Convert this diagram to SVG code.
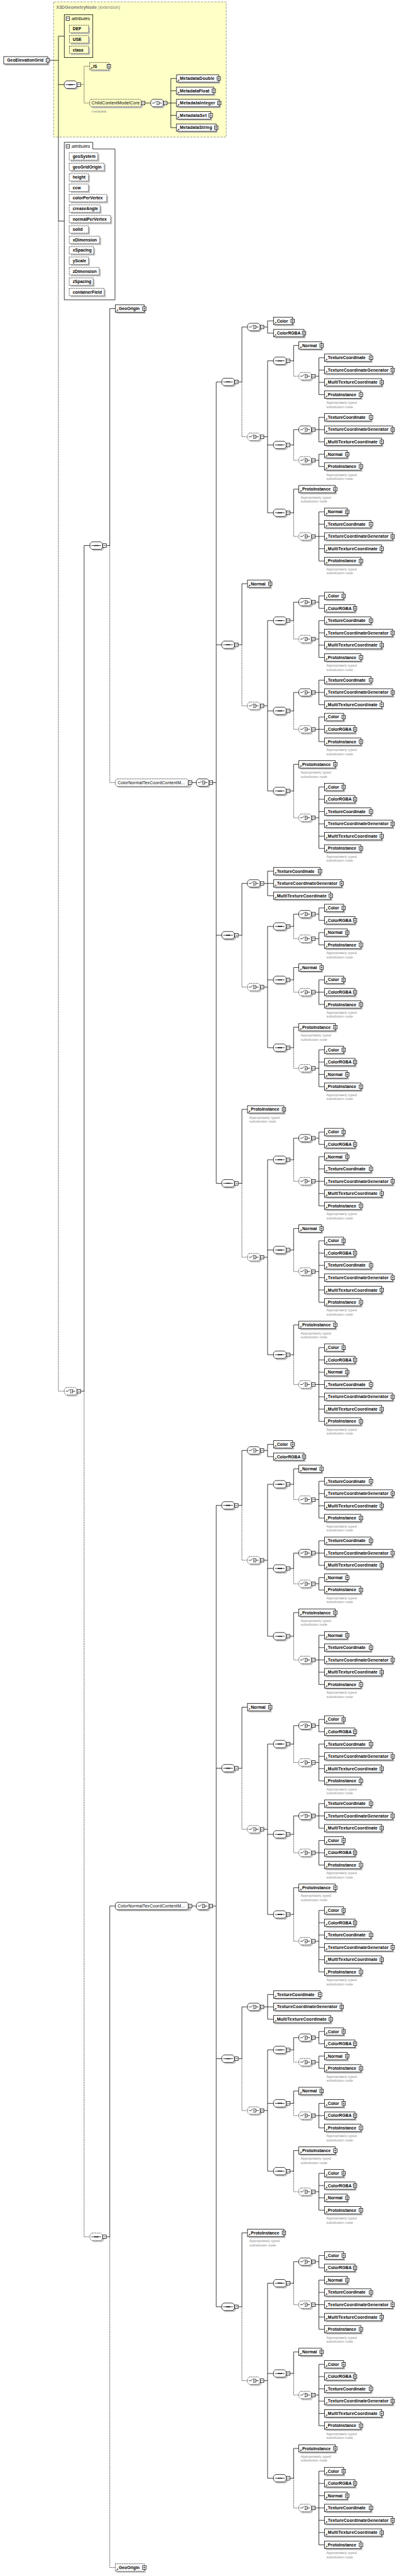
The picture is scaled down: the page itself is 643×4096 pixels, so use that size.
<svg xmlns="http://www.w3.org/2000/svg" width="643" height="4096" viewBox="0 0 643 4096">
<defs>
<style>
.t{font-family:"Liberation Sans",Arial,sans-serif;font-size:11.5px;font-weight:bold;fill:#000}
.n{font-family:"Liberation Sans",Arial,sans-serif;font-size:9.5px;fill:#8c8c8c}
.r{font-family:"Liberation Sans",Arial,sans-serif;font-size:11.5px;fill:#000}
.i{font-family:"Liberation Sans",Arial,sans-serif;font-size:12px;font-style:italic;fill:#000}
.ti{font-family:"Liberation Sans",Arial,sans-serif;font-size:12px;fill:#808080}
.c{fill:none;stroke:#000;stroke-width:1.3}
.d{fill:none;stroke:#000;stroke-width:1.3;stroke-dasharray:2.5 2}
.w{fill:#fff;stroke:#000;stroke-width:1.3}
.wd{fill:#fff;stroke:#000;stroke-width:1.3;stroke-dasharray:2.5 2}
.y{fill:#ffffc8;stroke:#000;stroke-width:1.3}
.yd{fill:#ffffc8;stroke:#000;stroke-width:1.3;stroke-dasharray:2.5 2}
.s{fill:#c4c4c4}
.k{fill:#000}
</style>
<g id="pl"><rect class="w" x="-4.75" y="-4.75" width="9.5" height="9.5" stroke-width="1"/><path d="M-2.8,0H2.8M0,-2.8V2.8" stroke="#000" stroke-width="1"/></g>
<g id="mi"><rect class="w" x="0" y="-4.75" width="9.5" height="9.5" stroke-width="1"/><path d="M2,0H7.5" stroke="#000" stroke-width="1"/></g>
<g id="ar"><path d="M2,8.5L5.6,4.9" stroke="#000" stroke-width="1.2"/><path d="M7.2,3.3V6.9L3.6,3.3Z" fill="#000"/></g>
<g id="Co"><rect class="s" x="4" y="-6" width="51.4" height="20"/><rect class="w" x="0" y="-10" width="51.4" height="20"/><use href="#ar"/><use href="#pl" x="51.4"/></g>
<g id="CR"><rect class="s" x="4" y="-6" width="82" height="20"/><rect class="w" x="0" y="-10" width="82" height="20"/><use href="#ar"/><use href="#pl" x="82"/></g>
<g id="TC"><rect class="s" x="4" y="-6" width="125" height="20"/><rect class="w" x="0" y="-10" width="125" height="20"/><use href="#ar"/><use href="#pl" x="125"/></g>
<g id="TG"><rect class="s" x="4" y="-6" width="183.2" height="20"/><rect class="w" x="0" y="-10" width="183.2" height="20"/><use href="#ar"/><use href="#pl" x="183.2"/></g>
<g id="MT"><rect class="s" x="4" y="-6" width="154" height="20"/><rect class="w" x="0" y="-10" width="154" height="20"/><use href="#ar"/><use href="#pl" x="154"/></g>
<g id="PI"><rect class="s" x="4" y="-6" width="98" height="20"/><rect class="w" x="0" y="-10" width="98" height="20"/><use href="#ar"/><use href="#pl" x="98"/></g>
<g id="No"><rect class="s" x="4" y="-6" width="61.2" height="20"/><rect class="w" x="0" y="-10" width="61.2" height="20"/><use href="#ar"/><use href="#pl" x="61.2"/></g>
<path id="oct" d="M5,-10H29L34,-5V5L29,10H5L0,5V-5Z"/>
<g id="seqI"><path class="c" d="M4,0H30"/><path class="k" d="M12,-1.4h2.8v2.8h-2.8zM15.8,-1.4h2.8v2.8h-2.8zM19.6,-1.4h2.8v2.8h-2.8z"/></g>
<g id="chI"><path class="c" d="M4,0H9.5L14.5,-4.5M19.5,-4.2H22.5V4.2H19.5M22.5,0H30"/><path class="k" d="M16,-5.4h2.4v2.4h-2.4zM16,-1.2h2.4v2.4h-2.4zM16,3h2.4v2.4h-2.4z"/></g>
<g id="sqS"><path class="s" d="M9,-6H33L38,-1V9L33,14H9L4,9V-1Z"/><use href="#oct" class="w"/><use href="#seqI"/><use href="#mi" x="34.5"/></g>
<g id="sqD"><path class="s" d="M9,-6H33L38,-1V9L33,14H9L4,9V-1Z"/><use href="#oct" class="wd"/><use href="#seqI"/><use href="#mi" x="34.5"/></g>
<g id="chS"><path class="s" d="M9,-6H33L38,-1V9L33,14H9L4,9V-1Z"/><use href="#oct" class="w"/><use href="#chI"/><use href="#mi" x="34.5"/></g>
<g id="chD"><path class="s" d="M9,-6H33L38,-1V9L33,14H9L4,9V-1Z"/><use href="#oct" class="wd"/><use href="#chI"/><use href="#mi" x="34.5"/></g>
</defs>
<rect width="643" height="4096" fill="#fff"/>
<g transform="scale(0.5923)">

<g id="extension">
<rect x="144" y="5" width="464" height="363" fill="#ffffc8" stroke="#808080" stroke-width="1.3" stroke-dasharray="6 3"/>
<text class="ti" x="151" y="24.3"><tspan font-weight="bold">X3DGeometryNode</tspan> (extension)</text>
</g>

<g id="connectors">
<path class="d" d="M157,593.5V3734.8H172.7M216.6,227.2H226M241,177.7H226V276.7H241M226,3734.8V6004.9H241.7M295,1464.7V2101H310M295,6004.9V6892.7H310"/>
<path class="c" d="M133.2,162H157M172.7,97H157V593.5H172.7M157,227.2H172.7M389.5,276.7H405M449,276.7H459M474.3,210.7H459V342.7H474.3M459,243.7H474.3M459,276.7H474.3M459,309.7H474.3M216.6,3734.8H226V1464.7H241.7M310,828.4H295V1464.7H285.7M515.5,2101H527.7M310,5117H295V6004.9H285.7M515.5,5117H527.7"/>
<g id="conn-g1">
<path class="d" d="M650,1025.3V1172.65H665M789,968.65V1009.9H803M789,1194.55V1235.8H803M789,1376.65V1440.1H803M650,1730.9V1894.75H665M789,1666V1715.5H803M789,1908.4V1957.9H803M789,2123.5V2195.2H803M650,2510.7V2649.85H665M789,2487.1V2520.1H803M789,2630.5V2663.5H803M789,2812.6V2867.8H803M650,3176.65V3375.1H665M789,3113.35V3171.1H803M789,3355.75V3413.5H803M789,3636.85V3716.8H803"/>
<path class="c" d="M571.7,2101H581M596,1025.3H581V3176.65H596M581,1730.9H596M581,2510.7H596
M665,877.9H650V1025.3H640M709,877.9H719M735,861.4H719V894.4H735M709,1172.65H719M735,968.65H719V1376.65H735M719,1194.55H735
M803,927.4H789V968.65H779M847,1009.9H857M872,960.4H857V1059.4H872M857,993.4H872M857,1026.4H872
M803,1153.3H789V1194.55H779M847,1153.3H857M872,1120.3H857V1186.3H872M857,1153.3H872M847,1235.8H857M872,1219.3H857V1252.3H872
M803,1313.2H789V1376.65H779M847,1440.1H857M872,1374.1H857V1506.1H872M857,1407.1H872M857,1440.1H872M857,1473.1H872
M665,1567H650V1730.9H640M709,1894.75H719M735,1666H719V2123.5H735M719,1908.4H735
M803,1616.5H789V1666H779M847,1616.5H857M872,1600H857V1633H872M847,1715.5H857M872,1666H857V1765H872M857,1699H872M857,1732H872
M803,1858.9H789V1908.4H779M847,1858.9H857M872,1825.9H857V1891.9H872M857,1858.9H872M847,1957.9H857M872,1924.9H857V1990.9H872M857,1957.9H872
M803,2051.8H789V2123.5H779M847,2195.2H857M872,2112.7H857V2277.7H872M857,2145.7H872M857,2178.7H872M857,2211.7H872M857,2244.7H872
M665,2371.6H650V2510.7H640M709,2371.6H719M735,2338.6H719V2404.6H735M719,2371.6H735M709,2649.85H719M735,2487.1H719V2812.6H735M719,2630.5H735
M803,2454.1H789V2487.1H779M847,2454.1H857M872,2437.6H857V2470.6H872M847,2520.1H857M872,2503.6H857V2536.6H872
M803,2597.5H789V2630.5H779M847,2663.5H857M872,2630.5H857V2696.5H872M857,2663.5H872
M803,2757.4H789V2812.6H779M847,2867.8H857M872,2818.3H857V2917.3H872M857,2851.3H872M857,2884.3H872
M665,2978.2H650V3176.65H640M709,3375.1H719M735,3113.35H719V3636.85H735M719,3355.75H735
M803,3055.6H789V3113.35H779M847,3055.6H857M872,3039.1H857V3072.1H872M847,3171.1H857M872,3105.1H857V3237.1H872M857,3138.1H872M857,3171.1H872M857,3204.1H872
M803,3298H789V3355.75H779M847,3413.5H857M872,3331H857V3496H872M857,3364H872M857,3397H872M857,3430H872M857,3463H872
M803,3556.9H789V3636.85H779M847,3716.8H857M872,3617.8H857V3815.8H872M857,3650.8H872M857,3683.8H872M857,3716.8H872M857,3749.8H872M857,3782.8H872"/>
</g>
<g id="conn-g2" transform="translate(0,3016)">
<path class="d" d="M650,1025.3V1172.65H665M789,968.65V1009.9H803M789,1194.55V1235.8H803M789,1376.65V1440.1H803M650,1730.9V1894.75H665M789,1666V1715.5H803M789,1908.4V1957.9H803M789,2123.5V2195.2H803M650,2510.7V2649.85H665M789,2487.1V2520.1H803M789,2630.5V2663.5H803M789,2812.6V2867.8H803M650,3176.65V3375.1H665M789,3113.35V3171.1H803M789,3355.75V3413.5H803M789,3636.85V3716.8H803"/>
<path class="c" d="M571.7,2101H581M596,1025.3H581V3176.65H596M581,1730.9H596M581,2510.7H596
M665,877.9H650V1025.3H640M709,877.9H719M735,861.4H719V894.4H735M709,1172.65H719M735,968.65H719V1376.65H735M719,1194.55H735
M803,927.4H789V968.65H779M847,1009.9H857M872,960.4H857V1059.4H872M857,993.4H872M857,1026.4H872
M803,1153.3H789V1194.55H779M847,1153.3H857M872,1120.3H857V1186.3H872M857,1153.3H872M847,1235.8H857M872,1219.3H857V1252.3H872
M803,1313.2H789V1376.65H779M847,1440.1H857M872,1374.1H857V1506.1H872M857,1407.1H872M857,1440.1H872M857,1473.1H872
M665,1567H650V1730.9H640M709,1894.75H719M735,1666H719V2123.5H735M719,1908.4H735
M803,1616.5H789V1666H779M847,1616.5H857M872,1600H857V1633H872M847,1715.5H857M872,1666H857V1765H872M857,1699H872M857,1732H872
M803,1858.9H789V1908.4H779M847,1858.9H857M872,1825.9H857V1891.9H872M857,1858.9H872M847,1957.9H857M872,1924.9H857V1990.9H872M857,1957.9H872
M803,2051.8H789V2123.5H779M847,2195.2H857M872,2112.7H857V2277.7H872M857,2145.7H872M857,2178.7H872M857,2211.7H872M857,2244.7H872
M665,2371.6H650V2510.7H640M709,2371.6H719M735,2338.6H719V2404.6H735M719,2371.6H735M709,2649.85H719M735,2487.1H719V2812.6H735M719,2630.5H735
M803,2454.1H789V2487.1H779M847,2454.1H857M872,2437.6H857V2470.6H872M847,2520.1H857M872,2503.6H857V2536.6H872
M803,2597.5H789V2630.5H779M847,2663.5H857M872,2630.5H857V2696.5H872M857,2663.5H872
M803,2757.4H789V2812.6H779M847,2867.8H857M872,2818.3H857V2917.3H872M857,2851.3H872M857,2884.3H872
M665,2978.2H650V3176.65H640M709,3375.1H719M735,3113.35H719V3636.85H735M719,3355.75H735
M803,3055.6H789V3113.35H779M847,3055.6H857M872,3039.1H857V3072.1H872M847,3171.1H857M872,3105.1H857V3237.1H872M857,3138.1H872M857,3171.1H872M857,3204.1H872
M803,3298H789V3355.75H779M847,3413.5H857M872,3331H857V3496H872M857,3364H872M857,3397H872M857,3430H872M857,3463H872
M803,3556.9H789V3636.85H779M847,3716.8H857M872,3617.8H857V3815.8H872M857,3650.8H872M857,3683.8H872M857,3716.8H872M857,3749.8H872M857,3782.8H872"/>
</g>
</g>

<g id="GeoElevationGrid"><rect class="s" x="14" y="156" width="118.5" height="20"/><rect class="w" x="10" y="152" width="118.5" height="20"/><text class="t" x="19" y="166" textLength="97.6">GeoElevationGrid</text><use href="#mi" x="123.75" y="162"/></g>

<g id="attributes1">
<rect x="172.7" y="39.3" width="76.7" height="115" fill="none" stroke="#000" stroke-width="1.3"/>
<use href="#mi" x="177.5" y="50"/><text class="i" x="192.5" y="54.2">attributes</text>
<g id="a-DEF"><rect class="s" x="190.6" y="71.7" width="51.4" height="20"/><rect class="yd" x="186.6" y="67.7" width="51.4" height="20"/><text class="t" x="195.6" y="81.7">DEF</text></g>
<g id="a-USE"><rect class="s" x="190.6" y="99.7" width="51.4" height="20"/><rect class="yd" x="186.6" y="95.7" width="51.4" height="20"/><text class="t" x="195.6" y="109.7">USE</text></g>
<g id="a-class"><rect class="s" x="190.6" y="127.7" width="51.4" height="20"/><rect class="yd" x="186.6" y="123.7" width="51.4" height="20"/><text class="t" x="195.6" y="137.7">class</text></g>
</g>

<g id="seq-ext"><g transform="translate(172.7,227.2)"><use href="#sqS"/></g></g>
<g id="IS"><rect class="s" x="245" y="171.7" width="51.5" height="20"/><rect class="yd" x="241" y="167.7" width="51.5" height="20"/><use href="#ar" x="241" y="177.7"/><use href="#pl" x="292.5" y="177.7"/><text class="t" x="250" y="181.7">IS</text></g>
<g id="ChildContentModelCore"><path class="s" d="M249,270.7H380L384,274.7V286.7L380,290.7H249L245,286.7V274.7Z"/><path class="yd" d="M245,266.7H376L380,270.7V282.7L376,286.7H245L241,282.7V270.7Z"/><text class="r" x="246.2" y="280.9" textLength="129">ChildContentModelCore</text><use href="#mi" x="380" y="276.7"/><text class="n" x="246" y="302.5">metadata</text></g>
<g id="choice-meta"><g transform="translate(405,276.7)"><use href="#chS"/></g></g>
<g id="MetadataDouble"><rect class="s" x="478.3" y="204.7" width="113.4" height="20"/><rect class="w" x="474.3" y="200.7" width="113.4" height="20"/><use href="#ar" x="474.3" y="210.7"/><use href="#pl" x="587.7" y="210.7"/><text class="t" x="483.3" y="214.7" textLength="92.9">MetadataDouble</text></g>
<g id="MetadataFloat"><rect class="s" x="478.3" y="237.7" width="100" height="20"/><rect class="w" x="474.3" y="233.7" width="100" height="20"/><use href="#ar" x="474.3" y="243.7"/><use href="#pl" x="574.3" y="243.7"/><text class="t" x="483.3" y="247.7" textLength="79.4">MetadataFloat</text></g>
<g id="MetadataInteger"><rect class="s" x="478.3" y="270.7" width="115" height="20"/><rect class="w" x="474.3" y="266.7" width="115" height="20"/><use href="#ar" x="474.3" y="276.7"/><use href="#pl" x="589.3" y="276.7"/><text class="t" x="483.3" y="280.7" textLength="94.9">MetadataInteger</text></g>
<g id="MetadataSet"><rect class="s" x="478.3" y="303.7" width="92" height="20"/><rect class="w" x="474.3" y="299.7" width="92" height="20"/><use href="#ar" x="474.3" y="309.7"/><use href="#pl" x="566.3" y="309.7"/><text class="t" x="483.3" y="313.7" textLength="72">MetadataSet</text></g>
<g id="MetadataString"><rect class="s" x="478.3" y="336.7" width="106.7" height="20"/><rect class="w" x="474.3" y="332.7" width="106.7" height="20"/><use href="#ar" x="474.3" y="342.7"/><use href="#pl" x="581" y="342.7"/><text class="t" x="483.3" y="346.7" textLength="86.6">MetadataString</text></g>

<g id="attributes2">
<path d="M172.7,382H249.4V400H309V805H172.7Z" fill="none" stroke="#000" stroke-width="1.3"/>
<use href="#mi" x="177.5" y="393"/><text class="i" x="192.5" y="397.2">attributes</text>
<g id="a-geoSystem"><rect class="s" x="190" y="414" width="77" height="20"/><rect class="wd" x="186" y="410" width="77" height="20"/><text class="t" x="195.3" y="424">geoSystem</text></g>
<g id="a-geoGridOrigin"><rect class="s" x="190" y="442" width="94" height="20"/><rect class="wd" x="186" y="438" width="94" height="20"/><text class="t" x="195.3" y="452">geoGridOrigin</text></g>
<g id="a-height"><rect class="s" x="190" y="470" width="51.7" height="20"/><rect class="wd" x="186" y="466" width="51.7" height="20"/><text class="t" x="195.3" y="480">height</text></g>
<g id="a-ccw"><rect class="s" x="190" y="498" width="51.7" height="20"/><rect class="wd" x="186" y="494" width="51.7" height="20"/><text class="t" x="195.3" y="508">ccw</text></g>
<g id="a-colorPerVertex"><rect class="s" x="190" y="526" width="100.7" height="20"/><rect class="wd" x="186" y="522" width="100.7" height="20"/><text class="t" x="195.3" y="536">colorPerVertex</text></g>
<g id="a-creaseAngle"><rect class="s" x="190" y="554" width="83" height="20"/><rect class="wd" x="186" y="550" width="83" height="20"/><text class="t" x="195.3" y="564">creaseAngle</text></g>
<g id="a-normalPerVertex"><rect class="s" x="190" y="582" width="111.3" height="20"/><rect class="wd" x="186" y="578" width="111.3" height="20"/><text class="t" x="195.3" y="592">normalPerVertex</text></g>
<g id="a-solid"><rect class="s" x="190" y="610" width="51.7" height="20"/><rect class="wd" x="186" y="606" width="51.7" height="20"/><text class="t" x="195.3" y="620">solid</text></g>
<g id="a-xDimension"><rect class="s" x="190" y="638" width="82" height="20"/><rect class="wd" x="186" y="634" width="82" height="20"/><text class="t" x="195.3" y="648">xDimension</text></g>
<g id="a-xSpacing"><rect class="s" x="190" y="666" width="65.7" height="20"/><rect class="wd" x="186" y="662" width="65.7" height="20"/><text class="t" x="195.3" y="676">xSpacing</text></g>
<g id="a-yScale"><rect class="s" x="190" y="694" width="51.7" height="20"/><rect class="wd" x="186" y="690" width="51.7" height="20"/><text class="t" x="195.3" y="704">yScale</text></g>
<g id="a-zDimension"><rect class="s" x="190" y="722" width="80.7" height="20"/><rect class="wd" x="186" y="718" width="80.7" height="20"/><text class="t" x="195.3" y="732">zDimension</text></g>
<g id="a-zSpacing"><rect class="s" x="190" y="750" width="64.3" height="20"/><rect class="wd" x="186" y="746" width="64.3" height="20"/><text class="t" x="195.3" y="760">zSpacing</text></g>
<g id="a-containerField"><rect class="s" x="190" y="778" width="94" height="20"/><rect class="wd" x="186" y="774" width="94" height="20"/><text class="t" x="195.3" y="788">containerField</text></g>
</g>

<g id="choice-main"><g transform="translate(172.7,3734.8)"><use href="#chD"/></g></g>
<g id="seq-1"><g transform="translate(241.7,1464.7)"><use href="#sqS"/></g></g>
<g id="seq-2"><g transform="translate(241.7,6004.9)"><use href="#sqD"/></g></g>
<g id="GeoOrigin-1"><rect class="s" x="314" y="822.4" width="77.7" height="20"/><rect class="w" x="310" y="818.4" width="77.7" height="20"/><use href="#ar" x="310" y="828.4"/><use href="#pl" x="387.7" y="828.4"/><text class="t" x="319" y="832.4">GeoOrigin</text></g>
<g id="GeoOrigin-2"><rect class="s" x="314" y="6886.7" width="77.7" height="20"/><rect class="wd" x="310" y="6882.7" width="77.7" height="20"/><use href="#ar" x="310" y="6892.7"/><use href="#pl" x="387.7" y="6892.7"/><text class="t" x="319" y="6896.7">GeoOrigin</text></g>
<g id="ColorNormalTexCoord-1"><path class="s" d="M318,2095H510L514,2099V2111L510,2115H318L314,2111V2099Z"/><path class="wd" d="M314,2091H502L506,2095V2107L502,2111H314L310,2107V2095Z"/><text class="r" x="316" y="2105.2" textLength="180.7">ColorNormalTexCoordContentM...</text><use href="#mi" x="506" y="2101"/></g>
<g id="ColorNormalTexCoord-2"><path class="s" d="M318,5111H510L514,5115V5127L510,5131H318L314,5127V5115Z"/><path class="w" d="M314,5107H502L506,5111V5123L502,5127H314L310,5123V5111Z"/><text class="r" x="316" y="5121.2" textLength="180.7">ColorNormalTexCoordContentM...</text><use href="#mi" x="506" y="5117"/></g>
<g id="choice-CN1"><g transform="translate(527.7,2101)"><use href="#chS"/></g></g>
<g id="choice-CN2"><g transform="translate(527.7,5117)"><use href="#chS"/></g></g>

<g id="group1">
<g id="g1S1" transform="translate(596,1025.3)"><use href="#sqS"/></g>
<g id="g1C1a" transform="translate(665,877.9)"><use href="#chS"/></g>
<g id="g1e1" transform="translate(735,861.4)"><use href="#Co"/><text class="t" x="9" y="4">Color</text></g>
<g id="g1e2" transform="translate(735,894.4)"><use href="#CR"/><text class="t" x="9" y="4">ColorRGBA</text></g>
<g id="g1C1b" transform="translate(665,1172.65)"><use href="#chD"/></g>
<g id="g1Q1" transform="translate(735,968.65)"><use href="#sqS"/></g>
<g id="g1e3" transform="translate(803,927.4)"><use href="#No"/><text class="t" x="9" y="4">Normal</text></g>
<g id="g1Q1c" transform="translate(803,1009.9)"><use href="#chD"/></g>
<g id="g1e4" transform="translate(872,960.4)"><use href="#TC"/><text class="t" x="9" y="4">TextureCoordinate</text></g>
<g id="g1e5" transform="translate(872,993.4)"><use href="#TG"/><text class="t" x="9" y="4" textLength="163">TextureCoordinateGenerator</text></g>
<g id="g1e6" transform="translate(872,1026.4)"><use href="#MT"/><text class="t" x="9" y="4" textLength="133.5">MultiTextureCoordinate</text></g>
<g id="g1e7" transform="translate(872,1059.4)"><use href="#PI"/><text class="t" x="9" y="4">ProtoInstance</text><text class="n" x="5" y="25">Appropriately typed</text><text class="n" x="5" y="36">substitution node</text></g>
<g id="g1Q2" transform="translate(735,1194.55)"><use href="#sqS"/></g>
<g id="g1Q2a" transform="translate(803,1153.3)"><use href="#chS"/></g>
<g id="g1e8" transform="translate(872,1120.3)"><use href="#TC"/><text class="t" x="9" y="4">TextureCoordinate</text></g>
<g id="g1e9" transform="translate(872,1153.3)"><use href="#TG"/><text class="t" x="9" y="4" textLength="163">TextureCoordinateGenerator</text></g>
<g id="g1e10" transform="translate(872,1186.3)"><use href="#MT"/><text class="t" x="9" y="4" textLength="133.5">MultiTextureCoordinate</text></g>
<g id="g1Q2b" transform="translate(803,1235.8)"><use href="#chD"/></g>
<g id="g1e11" transform="translate(872,1219.3)"><use href="#No"/><text class="t" x="9" y="4">Normal</text></g>
<g id="g1e12" transform="translate(872,1252.3)"><use href="#PI"/><text class="t" x="9" y="4">ProtoInstance</text><text class="n" x="5" y="25">Appropriately typed</text><text class="n" x="5" y="36">substitution node</text></g>
<g id="g1Q3" transform="translate(735,1376.65)"><use href="#sqS"/></g>
<g id="g1e13" transform="translate(803,1313.2)"><use href="#PI"/><text class="t" x="9" y="4">ProtoInstance</text><text class="n" x="5" y="25">Appropriately typed</text><text class="n" x="5" y="36">substitution node</text></g>
<g id="g1Q3b" transform="translate(803,1440.1)"><use href="#chD"/></g>
<g id="g1e14" transform="translate(872,1374.1)"><use href="#No"/><text class="t" x="9" y="4">Normal</text></g>
<g id="g1e15" transform="translate(872,1407.1)"><use href="#TC"/><text class="t" x="9" y="4">TextureCoordinate</text></g>
<g id="g1e16" transform="translate(872,1440.1)"><use href="#TG"/><text class="t" x="9" y="4" textLength="163">TextureCoordinateGenerator</text></g>
<g id="g1e17" transform="translate(872,1473.1)"><use href="#MT"/><text class="t" x="9" y="4" textLength="133.5">MultiTextureCoordinate</text></g>
<g id="g1e18" transform="translate(872,1506.1)"><use href="#PI"/><text class="t" x="9" y="4">ProtoInstance</text><text class="n" x="5" y="25">Appropriately typed</text><text class="n" x="5" y="36">substitution node</text></g>
<g id="g1S2" transform="translate(596,1730.9)"><use href="#sqS"/></g>
<g id="g1e19" transform="translate(665,1567)"><use href="#No"/><text class="t" x="9" y="4">Normal</text></g>
<g id="g1C2b" transform="translate(665,1894.75)"><use href="#chD"/></g>
<g id="g1R1" transform="translate(735,1666)"><use href="#sqS"/></g>
<g id="g1R1a" transform="translate(803,1616.5)"><use href="#chS"/></g>
<g id="g1e20" transform="translate(872,1600)"><use href="#Co"/><text class="t" x="9" y="4">Color</text></g>
<g id="g1e21" transform="translate(872,1633)"><use href="#CR"/><text class="t" x="9" y="4">ColorRGBA</text></g>
<g id="g1R1b" transform="translate(803,1715.5)"><use href="#chD"/></g>
<g id="g1e22" transform="translate(872,1666)"><use href="#TC"/><text class="t" x="9" y="4">TextureCoordinate</text></g>
<g id="g1e23" transform="translate(872,1699)"><use href="#TG"/><text class="t" x="9" y="4" textLength="163">TextureCoordinateGenerator</text></g>
<g id="g1e24" transform="translate(872,1732)"><use href="#MT"/><text class="t" x="9" y="4" textLength="133.5">MultiTextureCoordinate</text></g>
<g id="g1e25" transform="translate(872,1765)"><use href="#PI"/><text class="t" x="9" y="4">ProtoInstance</text><text class="n" x="5" y="25">Appropriately typed</text><text class="n" x="5" y="36">substitution node</text></g>
<g id="g1R2" transform="translate(735,1908.4)"><use href="#sqS"/></g>
<g id="g1R2a" transform="translate(803,1858.9)"><use href="#chS"/></g>
<g id="g1e26" transform="translate(872,1825.9)"><use href="#TC"/><text class="t" x="9" y="4">TextureCoordinate</text></g>
<g id="g1e27" transform="translate(872,1858.9)"><use href="#TG"/><text class="t" x="9" y="4" textLength="163">TextureCoordinateGenerator</text></g>
<g id="g1e28" transform="translate(872,1891.9)"><use href="#MT"/><text class="t" x="9" y="4" textLength="133.5">MultiTextureCoordinate</text></g>
<g id="g1R2b" transform="translate(803,1957.9)"><use href="#chD"/></g>
<g id="g1e29" transform="translate(872,1924.9)"><use href="#Co"/><text class="t" x="9" y="4">Color</text></g>
<g id="g1e30" transform="translate(872,1957.9)"><use href="#CR"/><text class="t" x="9" y="4">ColorRGBA</text></g>
<g id="g1e31" transform="translate(872,1990.9)"><use href="#PI"/><text class="t" x="9" y="4">ProtoInstance</text><text class="n" x="5" y="25">Appropriately typed</text><text class="n" x="5" y="36">substitution node</text></g>
<g id="g1R3" transform="translate(735,2123.5)"><use href="#sqS"/></g>
<g id="g1e32" transform="translate(803,2051.8)"><use href="#PI"/><text class="t" x="9" y="4">ProtoInstance</text><text class="n" x="5" y="25">Appropriately typed</text><text class="n" x="5" y="36">substitution node</text></g>
<g id="g1R3b" transform="translate(803,2195.2)"><use href="#chD"/></g>
<g id="g1e33" transform="translate(872,2112.7)"><use href="#Co"/><text class="t" x="9" y="4">Color</text></g>
<g id="g1e34" transform="translate(872,2145.7)"><use href="#CR"/><text class="t" x="9" y="4">ColorRGBA</text></g>
<g id="g1e35" transform="translate(872,2178.7)"><use href="#TC"/><text class="t" x="9" y="4">TextureCoordinate</text></g>
<g id="g1e36" transform="translate(872,2211.7)"><use href="#TG"/><text class="t" x="9" y="4" textLength="163">TextureCoordinateGenerator</text></g>
<g id="g1e37" transform="translate(872,2244.7)"><use href="#MT"/><text class="t" x="9" y="4" textLength="133.5">MultiTextureCoordinate</text></g>
<g id="g1e38" transform="translate(872,2277.7)"><use href="#PI"/><text class="t" x="9" y="4">ProtoInstance</text><text class="n" x="5" y="25">Appropriately typed</text><text class="n" x="5" y="36">substitution node</text></g>
<g id="g1S3" transform="translate(596,2510.7)"><use href="#sqS"/></g>
<g id="g1C3a" transform="translate(665,2371.6)"><use href="#chS"/></g>
<g id="g1e39" transform="translate(735,2338.6)"><use href="#TC"/><text class="t" x="9" y="4">TextureCoordinate</text></g>
<g id="g1e40" transform="translate(735,2371.6)"><use href="#TG"/><text class="t" x="9" y="4" textLength="163">TextureCoordinateGenerator</text></g>
<g id="g1e41" transform="translate(735,2404.6)"><use href="#MT"/><text class="t" x="9" y="4" textLength="133.5">MultiTextureCoordinate</text></g>
<g id="g1C3b" transform="translate(665,2649.85)"><use href="#chD"/></g>
<g id="g1T1" transform="translate(735,2487.1)"><use href="#sqS"/></g>
<g id="g1T1a" transform="translate(803,2454.1)"><use href="#chS"/></g>
<g id="g1e42" transform="translate(872,2437.6)"><use href="#Co"/><text class="t" x="9" y="4">Color</text></g>
<g id="g1e43" transform="translate(872,2470.6)"><use href="#CR"/><text class="t" x="9" y="4">ColorRGBA</text></g>
<g id="g1T1b" transform="translate(803,2520.1)"><use href="#chD"/></g>
<g id="g1e44" transform="translate(872,2503.6)"><use href="#No"/><text class="t" x="9" y="4">Normal</text></g>
<g id="g1e45" transform="translate(872,2536.6)"><use href="#PI"/><text class="t" x="9" y="4">ProtoInstance</text><text class="n" x="5" y="25">Appropriately typed</text><text class="n" x="5" y="36">substitution node</text></g>
<g id="g1T2" transform="translate(735,2630.5)"><use href="#sqS"/></g>
<g id="g1e46" transform="translate(803,2597.5)"><use href="#No"/><text class="t" x="9" y="4">Normal</text></g>
<g id="g1T2b" transform="translate(803,2663.5)"><use href="#chD"/></g>
<g id="g1e47" transform="translate(872,2630.5)"><use href="#Co"/><text class="t" x="9" y="4">Color</text></g>
<g id="g1e48" transform="translate(872,2663.5)"><use href="#CR"/><text class="t" x="9" y="4">ColorRGBA</text></g>
<g id="g1e49" transform="translate(872,2696.5)"><use href="#PI"/><text class="t" x="9" y="4">ProtoInstance</text><text class="n" x="5" y="25">Appropriately typed</text><text class="n" x="5" y="36">substitution node</text></g>
<g id="g1T3" transform="translate(735,2812.6)"><use href="#sqS"/></g>
<g id="g1e50" transform="translate(803,2757.4)"><use href="#PI"/><text class="t" x="9" y="4">ProtoInstance</text><text class="n" x="5" y="25">Appropriately typed</text><text class="n" x="5" y="36">substitution node</text></g>
<g id="g1T3b" transform="translate(803,2867.8)"><use href="#chD"/></g>
<g id="g1e51" transform="translate(872,2818.3)"><use href="#Co"/><text class="t" x="9" y="4">Color</text></g>
<g id="g1e52" transform="translate(872,2851.3)"><use href="#CR"/><text class="t" x="9" y="4">ColorRGBA</text></g>
<g id="g1e53" transform="translate(872,2884.3)"><use href="#No"/><text class="t" x="9" y="4">Normal</text></g>
<g id="g1e54" transform="translate(872,2917.3)"><use href="#PI"/><text class="t" x="9" y="4">ProtoInstance</text><text class="n" x="5" y="25">Appropriately typed</text><text class="n" x="5" y="36">substitution node</text></g>
<g id="g1S4" transform="translate(596,3176.65)"><use href="#sqS"/></g>
<g id="g1e55" transform="translate(665,2978.2)"><use href="#PI"/><text class="t" x="9" y="4">ProtoInstance</text><text class="n" x="5" y="25">Appropriately typed</text><text class="n" x="5" y="36">substitution node</text></g>
<g id="g1C4b" transform="translate(665,3375.1)"><use href="#chD"/></g>
<g id="g1U1" transform="translate(735,3113.35)"><use href="#sqS"/></g>
<g id="g1U1a" transform="translate(803,3055.6)"><use href="#chS"/></g>
<g id="g1e56" transform="translate(872,3039.1)"><use href="#Co"/><text class="t" x="9" y="4">Color</text></g>
<g id="g1e57" transform="translate(872,3072.1)"><use href="#CR"/><text class="t" x="9" y="4">ColorRGBA</text></g>
<g id="g1U1b" transform="translate(803,3171.1)"><use href="#chD"/></g>
<g id="g1e58" transform="translate(872,3105.1)"><use href="#No"/><text class="t" x="9" y="4">Normal</text></g>
<g id="g1e59" transform="translate(872,3138.1)"><use href="#TC"/><text class="t" x="9" y="4">TextureCoordinate</text></g>
<g id="g1e60" transform="translate(872,3171.1)"><use href="#TG"/><text class="t" x="9" y="4" textLength="163">TextureCoordinateGenerator</text></g>
<g id="g1e61" transform="translate(872,3204.1)"><use href="#MT"/><text class="t" x="9" y="4" textLength="133.5">MultiTextureCoordinate</text></g>
<g id="g1e62" transform="translate(872,3237.1)"><use href="#PI"/><text class="t" x="9" y="4">ProtoInstance</text><text class="n" x="5" y="25">Appropriately typed</text><text class="n" x="5" y="36">substitution node</text></g>
<g id="g1U2" transform="translate(735,3355.75)"><use href="#sqS"/></g>
<g id="g1e63" transform="translate(803,3298)"><use href="#No"/><text class="t" x="9" y="4">Normal</text></g>
<g id="g1U2b" transform="translate(803,3413.5)"><use href="#chD"/></g>
<g id="g1e64" transform="translate(872,3331)"><use href="#Co"/><text class="t" x="9" y="4">Color</text></g>
<g id="g1e65" transform="translate(872,3364)"><use href="#CR"/><text class="t" x="9" y="4">ColorRGBA</text></g>
<g id="g1e66" transform="translate(872,3397)"><use href="#TC"/><text class="t" x="9" y="4">TextureCoordinate</text></g>
<g id="g1e67" transform="translate(872,3430)"><use href="#TG"/><text class="t" x="9" y="4" textLength="163">TextureCoordinateGenerator</text></g>
<g id="g1e68" transform="translate(872,3463)"><use href="#MT"/><text class="t" x="9" y="4" textLength="133.5">MultiTextureCoordinate</text></g>
<g id="g1e69" transform="translate(872,3496)"><use href="#PI"/><text class="t" x="9" y="4">ProtoInstance</text><text class="n" x="5" y="25">Appropriately typed</text><text class="n" x="5" y="36">substitution node</text></g>
<g id="g1U3" transform="translate(735,3636.85)"><use href="#sqS"/></g>
<g id="g1e70" transform="translate(803,3556.9)"><use href="#PI"/><text class="t" x="9" y="4">ProtoInstance</text><text class="n" x="5" y="25">Appropriately typed</text><text class="n" x="5" y="36">substitution node</text></g>
<g id="g1U3b" transform="translate(803,3716.8)"><use href="#chD"/></g>
<g id="g1e71" transform="translate(872,3617.8)"><use href="#Co"/><text class="t" x="9" y="4">Color</text></g>
<g id="g1e72" transform="translate(872,3650.8)"><use href="#CR"/><text class="t" x="9" y="4">ColorRGBA</text></g>
<g id="g1e73" transform="translate(872,3683.8)"><use href="#No"/><text class="t" x="9" y="4">Normal</text></g>
<g id="g1e74" transform="translate(872,3716.8)"><use href="#TC"/><text class="t" x="9" y="4">TextureCoordinate</text></g>
<g id="g1e75" transform="translate(872,3749.8)"><use href="#TG"/><text class="t" x="9" y="4" textLength="163">TextureCoordinateGenerator</text></g>
<g id="g1e76" transform="translate(872,3782.8)"><use href="#MT"/><text class="t" x="9" y="4" textLength="133.5">MultiTextureCoordinate</text></g>
<g id="g1e77" transform="translate(872,3815.8)"><use href="#PI"/><text class="t" x="9" y="4">ProtoInstance</text><text class="n" x="5" y="25">Appropriately typed</text><text class="n" x="5" y="36">substitution node</text></g>
</g>

<g id="group2" transform="translate(0,3016)">
<g id="g2S1" transform="translate(596,1025.3)"><use href="#sqS"/></g>
<g id="g2C1a" transform="translate(665,877.9)"><use href="#chS"/></g>
<g id="g2e1" transform="translate(735,861.4)"><use href="#Co"/><text class="t" x="9" y="4">Color</text></g>
<g id="g2e2" transform="translate(735,894.4)"><use href="#CR"/><text class="t" x="9" y="4">ColorRGBA</text></g>
<g id="g2C1b" transform="translate(665,1172.65)"><use href="#chD"/></g>
<g id="g2Q1" transform="translate(735,968.65)"><use href="#sqS"/></g>
<g id="g2e3" transform="translate(803,927.4)"><use href="#No"/><text class="t" x="9" y="4">Normal</text></g>
<g id="g2Q1c" transform="translate(803,1009.9)"><use href="#chD"/></g>
<g id="g2e4" transform="translate(872,960.4)"><use href="#TC"/><text class="t" x="9" y="4">TextureCoordinate</text></g>
<g id="g2e5" transform="translate(872,993.4)"><use href="#TG"/><text class="t" x="9" y="4" textLength="163">TextureCoordinateGenerator</text></g>
<g id="g2e6" transform="translate(872,1026.4)"><use href="#MT"/><text class="t" x="9" y="4" textLength="133.5">MultiTextureCoordinate</text></g>
<g id="g2e7" transform="translate(872,1059.4)"><use href="#PI"/><text class="t" x="9" y="4">ProtoInstance</text><text class="n" x="5" y="25">Appropriately typed</text><text class="n" x="5" y="36">substitution node</text></g>
<g id="g2Q2" transform="translate(735,1194.55)"><use href="#sqS"/></g>
<g id="g2Q2a" transform="translate(803,1153.3)"><use href="#chS"/></g>
<g id="g2e8" transform="translate(872,1120.3)"><use href="#TC"/><text class="t" x="9" y="4">TextureCoordinate</text></g>
<g id="g2e9" transform="translate(872,1153.3)"><use href="#TG"/><text class="t" x="9" y="4" textLength="163">TextureCoordinateGenerator</text></g>
<g id="g2e10" transform="translate(872,1186.3)"><use href="#MT"/><text class="t" x="9" y="4" textLength="133.5">MultiTextureCoordinate</text></g>
<g id="g2Q2b" transform="translate(803,1235.8)"><use href="#chD"/></g>
<g id="g2e11" transform="translate(872,1219.3)"><use href="#No"/><text class="t" x="9" y="4">Normal</text></g>
<g id="g2e12" transform="translate(872,1252.3)"><use href="#PI"/><text class="t" x="9" y="4">ProtoInstance</text><text class="n" x="5" y="25">Appropriately typed</text><text class="n" x="5" y="36">substitution node</text></g>
<g id="g2Q3" transform="translate(735,1376.65)"><use href="#sqS"/></g>
<g id="g2e13" transform="translate(803,1313.2)"><use href="#PI"/><text class="t" x="9" y="4">ProtoInstance</text><text class="n" x="5" y="25">Appropriately typed</text><text class="n" x="5" y="36">substitution node</text></g>
<g id="g2Q3b" transform="translate(803,1440.1)"><use href="#chD"/></g>
<g id="g2e14" transform="translate(872,1374.1)"><use href="#No"/><text class="t" x="9" y="4">Normal</text></g>
<g id="g2e15" transform="translate(872,1407.1)"><use href="#TC"/><text class="t" x="9" y="4">TextureCoordinate</text></g>
<g id="g2e16" transform="translate(872,1440.1)"><use href="#TG"/><text class="t" x="9" y="4" textLength="163">TextureCoordinateGenerator</text></g>
<g id="g2e17" transform="translate(872,1473.1)"><use href="#MT"/><text class="t" x="9" y="4" textLength="133.5">MultiTextureCoordinate</text></g>
<g id="g2e18" transform="translate(872,1506.1)"><use href="#PI"/><text class="t" x="9" y="4">ProtoInstance</text><text class="n" x="5" y="25">Appropriately typed</text><text class="n" x="5" y="36">substitution node</text></g>
<g id="g2S2" transform="translate(596,1730.9)"><use href="#sqS"/></g>
<g id="g2e19" transform="translate(665,1567)"><use href="#No"/><text class="t" x="9" y="4">Normal</text></g>
<g id="g2C2b" transform="translate(665,1894.75)"><use href="#chD"/></g>
<g id="g2R1" transform="translate(735,1666)"><use href="#sqS"/></g>
<g id="g2R1a" transform="translate(803,1616.5)"><use href="#chS"/></g>
<g id="g2e20" transform="translate(872,1600)"><use href="#Co"/><text class="t" x="9" y="4">Color</text></g>
<g id="g2e21" transform="translate(872,1633)"><use href="#CR"/><text class="t" x="9" y="4">ColorRGBA</text></g>
<g id="g2R1b" transform="translate(803,1715.5)"><use href="#chD"/></g>
<g id="g2e22" transform="translate(872,1666)"><use href="#TC"/><text class="t" x="9" y="4">TextureCoordinate</text></g>
<g id="g2e23" transform="translate(872,1699)"><use href="#TG"/><text class="t" x="9" y="4" textLength="163">TextureCoordinateGenerator</text></g>
<g id="g2e24" transform="translate(872,1732)"><use href="#MT"/><text class="t" x="9" y="4" textLength="133.5">MultiTextureCoordinate</text></g>
<g id="g2e25" transform="translate(872,1765)"><use href="#PI"/><text class="t" x="9" y="4">ProtoInstance</text><text class="n" x="5" y="25">Appropriately typed</text><text class="n" x="5" y="36">substitution node</text></g>
<g id="g2R2" transform="translate(735,1908.4)"><use href="#sqS"/></g>
<g id="g2R2a" transform="translate(803,1858.9)"><use href="#chS"/></g>
<g id="g2e26" transform="translate(872,1825.9)"><use href="#TC"/><text class="t" x="9" y="4">TextureCoordinate</text></g>
<g id="g2e27" transform="translate(872,1858.9)"><use href="#TG"/><text class="t" x="9" y="4" textLength="163">TextureCoordinateGenerator</text></g>
<g id="g2e28" transform="translate(872,1891.9)"><use href="#MT"/><text class="t" x="9" y="4" textLength="133.5">MultiTextureCoordinate</text></g>
<g id="g2R2b" transform="translate(803,1957.9)"><use href="#chD"/></g>
<g id="g2e29" transform="translate(872,1924.9)"><use href="#Co"/><text class="t" x="9" y="4">Color</text></g>
<g id="g2e30" transform="translate(872,1957.9)"><use href="#CR"/><text class="t" x="9" y="4">ColorRGBA</text></g>
<g id="g2e31" transform="translate(872,1990.9)"><use href="#PI"/><text class="t" x="9" y="4">ProtoInstance</text><text class="n" x="5" y="25">Appropriately typed</text><text class="n" x="5" y="36">substitution node</text></g>
<g id="g2R3" transform="translate(735,2123.5)"><use href="#sqS"/></g>
<g id="g2e32" transform="translate(803,2051.8)"><use href="#PI"/><text class="t" x="9" y="4">ProtoInstance</text><text class="n" x="5" y="25">Appropriately typed</text><text class="n" x="5" y="36">substitution node</text></g>
<g id="g2R3b" transform="translate(803,2195.2)"><use href="#chD"/></g>
<g id="g2e33" transform="translate(872,2112.7)"><use href="#Co"/><text class="t" x="9" y="4">Color</text></g>
<g id="g2e34" transform="translate(872,2145.7)"><use href="#CR"/><text class="t" x="9" y="4">ColorRGBA</text></g>
<g id="g2e35" transform="translate(872,2178.7)"><use href="#TC"/><text class="t" x="9" y="4">TextureCoordinate</text></g>
<g id="g2e36" transform="translate(872,2211.7)"><use href="#TG"/><text class="t" x="9" y="4" textLength="163">TextureCoordinateGenerator</text></g>
<g id="g2e37" transform="translate(872,2244.7)"><use href="#MT"/><text class="t" x="9" y="4" textLength="133.5">MultiTextureCoordinate</text></g>
<g id="g2e38" transform="translate(872,2277.7)"><use href="#PI"/><text class="t" x="9" y="4">ProtoInstance</text><text class="n" x="5" y="25">Appropriately typed</text><text class="n" x="5" y="36">substitution node</text></g>
<g id="g2S3" transform="translate(596,2510.7)"><use href="#sqS"/></g>
<g id="g2C3a" transform="translate(665,2371.6)"><use href="#chS"/></g>
<g id="g2e39" transform="translate(735,2338.6)"><use href="#TC"/><text class="t" x="9" y="4">TextureCoordinate</text></g>
<g id="g2e40" transform="translate(735,2371.6)"><use href="#TG"/><text class="t" x="9" y="4" textLength="163">TextureCoordinateGenerator</text></g>
<g id="g2e41" transform="translate(735,2404.6)"><use href="#MT"/><text class="t" x="9" y="4" textLength="133.5">MultiTextureCoordinate</text></g>
<g id="g2C3b" transform="translate(665,2649.85)"><use href="#chD"/></g>
<g id="g2T1" transform="translate(735,2487.1)"><use href="#sqS"/></g>
<g id="g2T1a" transform="translate(803,2454.1)"><use href="#chS"/></g>
<g id="g2e42" transform="translate(872,2437.6)"><use href="#Co"/><text class="t" x="9" y="4">Color</text></g>
<g id="g2e43" transform="translate(872,2470.6)"><use href="#CR"/><text class="t" x="9" y="4">ColorRGBA</text></g>
<g id="g2T1b" transform="translate(803,2520.1)"><use href="#chD"/></g>
<g id="g2e44" transform="translate(872,2503.6)"><use href="#No"/><text class="t" x="9" y="4">Normal</text></g>
<g id="g2e45" transform="translate(872,2536.6)"><use href="#PI"/><text class="t" x="9" y="4">ProtoInstance</text><text class="n" x="5" y="25">Appropriately typed</text><text class="n" x="5" y="36">substitution node</text></g>
<g id="g2T2" transform="translate(735,2630.5)"><use href="#sqS"/></g>
<g id="g2e46" transform="translate(803,2597.5)"><use href="#No"/><text class="t" x="9" y="4">Normal</text></g>
<g id="g2T2b" transform="translate(803,2663.5)"><use href="#chD"/></g>
<g id="g2e47" transform="translate(872,2630.5)"><use href="#Co"/><text class="t" x="9" y="4">Color</text></g>
<g id="g2e48" transform="translate(872,2663.5)"><use href="#CR"/><text class="t" x="9" y="4">ColorRGBA</text></g>
<g id="g2e49" transform="translate(872,2696.5)"><use href="#PI"/><text class="t" x="9" y="4">ProtoInstance</text><text class="n" x="5" y="25">Appropriately typed</text><text class="n" x="5" y="36">substitution node</text></g>
<g id="g2T3" transform="translate(735,2812.6)"><use href="#sqS"/></g>
<g id="g2e50" transform="translate(803,2757.4)"><use href="#PI"/><text class="t" x="9" y="4">ProtoInstance</text><text class="n" x="5" y="25">Appropriately typed</text><text class="n" x="5" y="36">substitution node</text></g>
<g id="g2T3b" transform="translate(803,2867.8)"><use href="#chD"/></g>
<g id="g2e51" transform="translate(872,2818.3)"><use href="#Co"/><text class="t" x="9" y="4">Color</text></g>
<g id="g2e52" transform="translate(872,2851.3)"><use href="#CR"/><text class="t" x="9" y="4">ColorRGBA</text></g>
<g id="g2e53" transform="translate(872,2884.3)"><use href="#No"/><text class="t" x="9" y="4">Normal</text></g>
<g id="g2e54" transform="translate(872,2917.3)"><use href="#PI"/><text class="t" x="9" y="4">ProtoInstance</text><text class="n" x="5" y="25">Appropriately typed</text><text class="n" x="5" y="36">substitution node</text></g>
<g id="g2S4" transform="translate(596,3176.65)"><use href="#sqS"/></g>
<g id="g2e55" transform="translate(665,2978.2)"><use href="#PI"/><text class="t" x="9" y="4">ProtoInstance</text><text class="n" x="5" y="25">Appropriately typed</text><text class="n" x="5" y="36">substitution node</text></g>
<g id="g2C4b" transform="translate(665,3375.1)"><use href="#chD"/></g>
<g id="g2U1" transform="translate(735,3113.35)"><use href="#sqS"/></g>
<g id="g2U1a" transform="translate(803,3055.6)"><use href="#chS"/></g>
<g id="g2e56" transform="translate(872,3039.1)"><use href="#Co"/><text class="t" x="9" y="4">Color</text></g>
<g id="g2e57" transform="translate(872,3072.1)"><use href="#CR"/><text class="t" x="9" y="4">ColorRGBA</text></g>
<g id="g2U1b" transform="translate(803,3171.1)"><use href="#chD"/></g>
<g id="g2e58" transform="translate(872,3105.1)"><use href="#No"/><text class="t" x="9" y="4">Normal</text></g>
<g id="g2e59" transform="translate(872,3138.1)"><use href="#TC"/><text class="t" x="9" y="4">TextureCoordinate</text></g>
<g id="g2e60" transform="translate(872,3171.1)"><use href="#TG"/><text class="t" x="9" y="4" textLength="163">TextureCoordinateGenerator</text></g>
<g id="g2e61" transform="translate(872,3204.1)"><use href="#MT"/><text class="t" x="9" y="4" textLength="133.5">MultiTextureCoordinate</text></g>
<g id="g2e62" transform="translate(872,3237.1)"><use href="#PI"/><text class="t" x="9" y="4">ProtoInstance</text><text class="n" x="5" y="25">Appropriately typed</text><text class="n" x="5" y="36">substitution node</text></g>
<g id="g2U2" transform="translate(735,3355.75)"><use href="#sqS"/></g>
<g id="g2e63" transform="translate(803,3298)"><use href="#No"/><text class="t" x="9" y="4">Normal</text></g>
<g id="g2U2b" transform="translate(803,3413.5)"><use href="#chD"/></g>
<g id="g2e64" transform="translate(872,3331)"><use href="#Co"/><text class="t" x="9" y="4">Color</text></g>
<g id="g2e65" transform="translate(872,3364)"><use href="#CR"/><text class="t" x="9" y="4">ColorRGBA</text></g>
<g id="g2e66" transform="translate(872,3397)"><use href="#TC"/><text class="t" x="9" y="4">TextureCoordinate</text></g>
<g id="g2e67" transform="translate(872,3430)"><use href="#TG"/><text class="t" x="9" y="4" textLength="163">TextureCoordinateGenerator</text></g>
<g id="g2e68" transform="translate(872,3463)"><use href="#MT"/><text class="t" x="9" y="4" textLength="133.5">MultiTextureCoordinate</text></g>
<g id="g2e69" transform="translate(872,3496)"><use href="#PI"/><text class="t" x="9" y="4">ProtoInstance</text><text class="n" x="5" y="25">Appropriately typed</text><text class="n" x="5" y="36">substitution node</text></g>
<g id="g2U3" transform="translate(735,3636.85)"><use href="#sqS"/></g>
<g id="g2e70" transform="translate(803,3556.9)"><use href="#PI"/><text class="t" x="9" y="4">ProtoInstance</text><text class="n" x="5" y="25">Appropriately typed</text><text class="n" x="5" y="36">substitution node</text></g>
<g id="g2U3b" transform="translate(803,3716.8)"><use href="#chD"/></g>
<g id="g2e71" transform="translate(872,3617.8)"><use href="#Co"/><text class="t" x="9" y="4">Color</text></g>
<g id="g2e72" transform="translate(872,3650.8)"><use href="#CR"/><text class="t" x="9" y="4">ColorRGBA</text></g>
<g id="g2e73" transform="translate(872,3683.8)"><use href="#No"/><text class="t" x="9" y="4">Normal</text></g>
<g id="g2e74" transform="translate(872,3716.8)"><use href="#TC"/><text class="t" x="9" y="4">TextureCoordinate</text></g>
<g id="g2e75" transform="translate(872,3749.8)"><use href="#TG"/><text class="t" x="9" y="4" textLength="163">TextureCoordinateGenerator</text></g>
<g id="g2e76" transform="translate(872,3782.8)"><use href="#MT"/><text class="t" x="9" y="4" textLength="133.5">MultiTextureCoordinate</text></g>
<g id="g2e77" transform="translate(872,3815.8)"><use href="#PI"/><text class="t" x="9" y="4">ProtoInstance</text><text class="n" x="5" y="25">Appropriately typed</text><text class="n" x="5" y="36">substitution node</text></g>
</g>

</g>
</svg>
